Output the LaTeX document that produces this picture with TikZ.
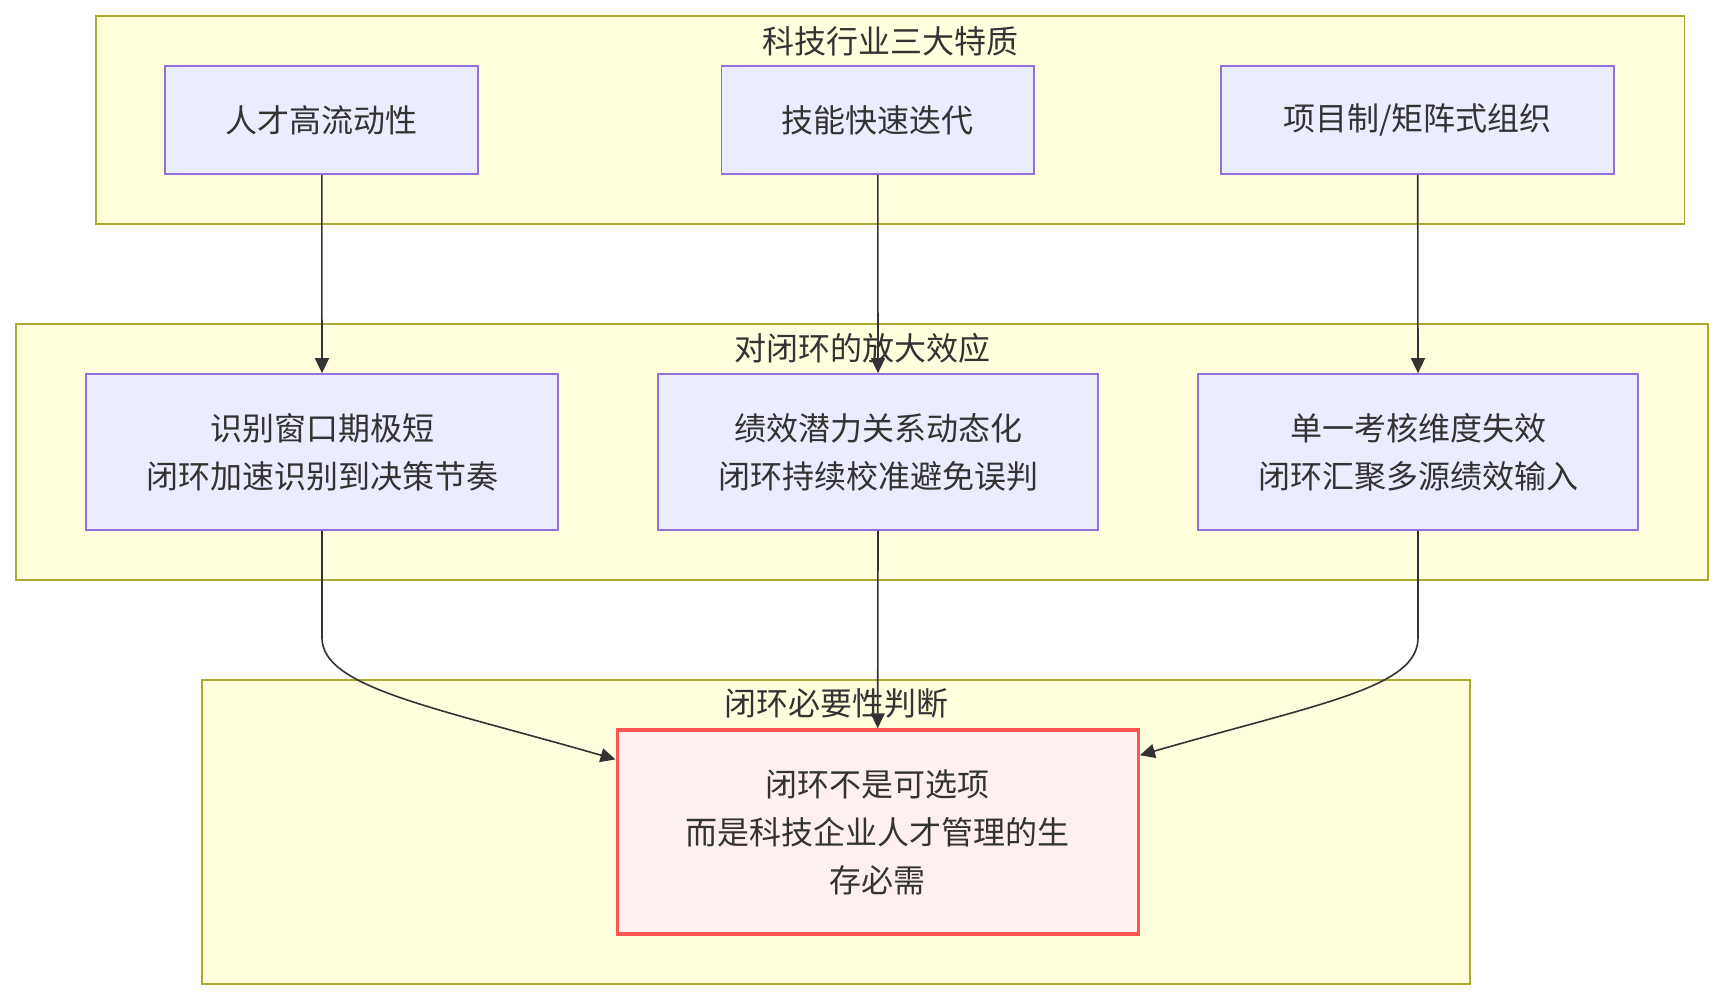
\documentclass[tikz,border=0pt]{standalone}
\usepackage{fontspec}
\newfontfamily\cjk{Noto Sans CJK SC}
\usetikzlibrary{arrows.meta,calc}
\definecolor{clfill}{HTML}{FFFFDE}
\definecolor{clline}{HTML}{AAAA33}
\definecolor{nfill}{HTML}{ECECFF}
\definecolor{nline}{HTML}{9370DB}
\definecolor{txt}{HTML}{333333}
\definecolor{rfill}{HTML}{FFF0F0}
\definecolor{rline}{HTML}{FF5555}
\tikzset{
  cluster/.style={draw=clline,fill=clfill,line width=0.9pt,inner sep=0pt},
  ctitle/.style={text=txt,font=\cjk\fontsize{16pt}{24pt}\selectfont,inner sep=0pt},
  box/.style={draw=nline,fill=nfill,line width=0.85pt,inner sep=0pt,align=center,
    text=txt,font=\cjk\fontsize{16pt}{24pt}\selectfont},
  finalbox/.style={draw=rline,fill=rfill,line width=1.7pt,inner sep=0pt,align=center,
    text=txt,font=\cjk\fontsize{16pt}{24pt}\selectfont},
  edge/.style={draw=txt,line width=0.8pt,-{Triangle[length=7.5pt,width=7pt]}}
}
\begin{document}
\begin{tikzpicture}[x=0.5pt,y=-0.5pt]
\useasboundingbox[fill=white] (0,0) rectangle (1724,1000);
% clusters
\node[cluster,minimum width=794.25pt,minimum height=104.1pt] (c1) at (890.15,119.8) {};
\node[cluster,minimum width=845.85pt,minimum height=128pt] (c2) at (861.95,451.8) {};
\node[cluster,minimum width=633.9pt,minimum height=152pt] (c3) at (835.9,832) {};
\node[ctitle] (t1) at (890,41) {科技行业三大特质};
\node[ctitle] (t2) at (862,348) {对闭环的放大效应};
\node[ctitle] (t3) at (836,703) {闭环必要性判断};
% nodes
\node[box,minimum width=156.5pt,minimum height=54.15pt] (n1) at (321.8,120) {人才高流动性};
\node[box,minimum width=156.2pt,minimum height=54.15pt] (n2) at (877.8,120) {技能快速迭代};
\node[box,minimum width=196.5pt,minimum height=54.15pt] (n3) at (1417.7,120) {项目制/矩阵式组织};
\node[box,minimum width=236pt,minimum height=78pt] (n4) at (322,452) {识别窗口期极短\\闭环加速识别到决策节奏};
\node[box,minimum width=220pt,minimum height=78pt] (n5) at (878,452) {绩效潜力关系动态化\\闭环持续校准避免误判};
\node[box,minimum width=220.2pt,minimum height=78pt] (n6) at (1418,452) {单一考核维度失效\\闭环汇聚多源绩效输入};
\node[finalbox,minimum width=260.5pt,minimum height=102pt] (fin) at (877.7,832) {闭环不是可选项\\而是科技企业人才管理的生\\存必需};
\coordinate (L) at ($(fin.north west)!0.15!(fin.south west)$);
\coordinate (R) at ($(fin.north east)!0.13!(fin.south east)$);
% edges
\draw[edge] (n1.south) -- (n4.north);
\draw[edge] (n2.south) -- (n5.north);
\draw[edge] (n3.south) -- (n6.north);
\draw[edge] (n5.south) -- (fin.north);
\draw[edge] (n4.south) -- ++(0,107) .. controls ++(0,50) and ++(-180,-52) .. (L);
\draw[edge] (n6.south) -- ++(0,107) .. controls ++(0,50) and ++(180,-52) .. (R);
\end{tikzpicture}
\end{document}
